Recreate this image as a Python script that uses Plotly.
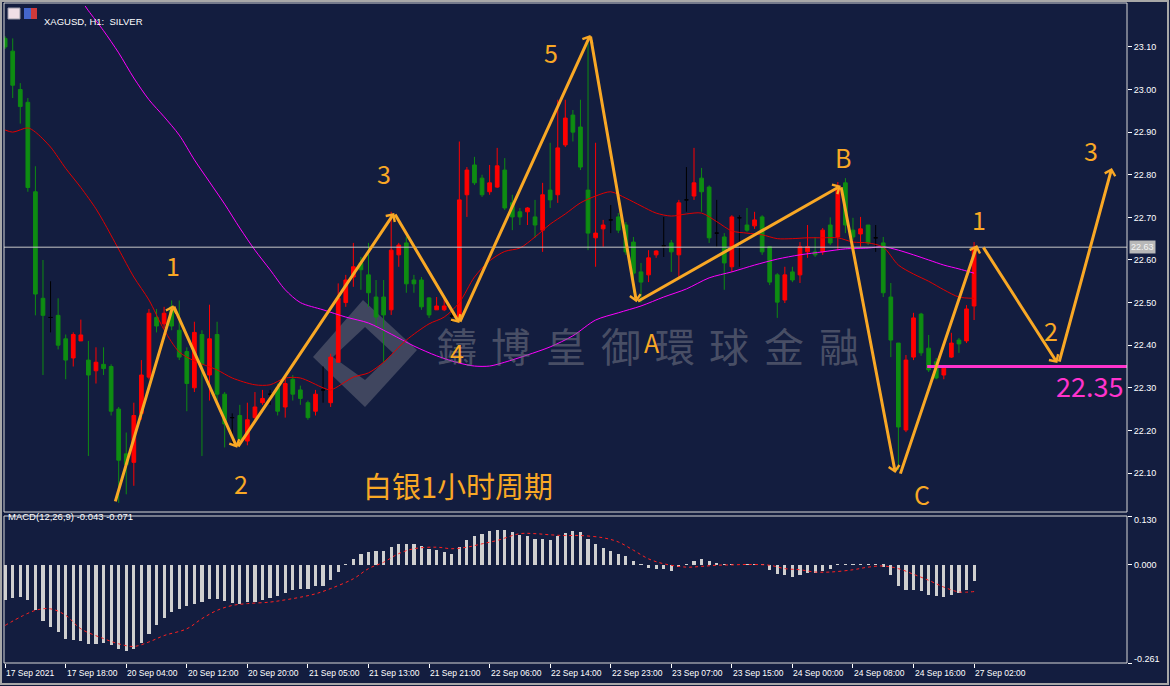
import plotly.graph_objects as go

# ---------------- data ----------------
bar_open = [23.12, 23.09, 23.00, 22.97, 22.76, 22.51, 22.465, 22.47, 22.415, 22.37,
            22.41, 22.365, 22.34, 22.355, 22.35, 22.25, 22.145, 22.125, 22.24, 22.325,
            22.465, 22.45, 22.49, 22.435, 22.385, 22.30, 22.425, 22.33, 22.425, 22.285,
            22.23, 22.235, 22.175, 22.23, 22.265, 22.285, 22.30, 22.255, 22.32, 22.295,
            22.265, 22.245, 22.295, 22.265, 22.36, 22.50, 22.56, 22.593, 22.565, 22.513,
            22.513, 22.483, 22.612, 22.64, 22.553, 22.553, 22.511, 22.483, 22.483, 22.468,
            22.466, 22.753, 22.823, 22.792, 22.76, 22.771, 22.811, 22.734, 22.713, 22.713,
            22.701, 22.67, 22.764, 22.753, 22.87, 22.94, 22.912, 22.764, 22.652, 22.673,
            22.694, 22.701, 22.682, 22.642, 22.572, 22.565, 22.612, 22.633, 22.64, 22.612,
            22.741, 22.75, 22.792, 22.771, 22.663, 22.654, 22.584, 22.699, 22.682, 22.68,
            22.701, 22.631, 22.565, 22.506, 22.572, 22.565, 22.619, 22.619, 22.619, 22.682,
            22.654, 22.781, 22.67, 22.661, 22.682, 22.652, 22.64, 22.513, 22.405, 22.201,
            22.372, 22.473, 22.393, 22.361, 22.33, 22.372, 22.412, 22.41, 22.492]
bar_high = [23.125, 23.12, 23.015, 22.98, 22.82, 22.60, 22.55, 22.51, 22.425, 22.43,
            22.46, 22.41, 22.395, 22.395, 22.355, 22.255, 22.195, 22.265, 22.365, 22.485,
            22.485, 22.49, 22.505, 22.505, 22.395, 22.455, 22.435, 22.495, 22.455, 22.29,
            22.24, 22.26, 22.265, 22.29, 22.295, 22.295, 22.31, 22.325, 22.33, 22.305,
            22.27, 22.295, 22.35, 22.38, 22.545, 22.565, 22.64, 22.607, 22.64, 22.553,
            22.553, 22.713, 22.64, 22.654, 22.565, 22.56, 22.513, 22.513, 22.511, 22.476,
            22.878, 22.818, 22.842, 22.80, 22.823, 22.863, 22.839, 22.753, 22.722, 22.724,
            22.741, 22.781, 22.875, 22.976, 22.976, 22.952, 22.976, 23.11, 22.875, 22.694,
            22.729, 22.71, 22.689, 22.654, 22.593, 22.623, 22.623, 22.701, 22.647, 22.741,
            22.818, 22.863, 22.816, 22.775, 22.741, 22.663, 22.705, 22.705, 22.722, 22.713,
            22.705, 22.631, 22.569, 22.584, 22.584, 22.642, 22.682, 22.654, 22.675, 22.70,
            22.783, 22.792, 22.699, 22.701, 22.682, 22.682, 22.654, 22.546, 22.405, 22.377,
            22.476, 22.476, 22.424, 22.37, 22.351, 22.429, 22.417, 22.494, 22.642]
bar_low = [23.095, 22.98, 22.92, 22.76, 22.47, 22.33, 22.43, 22.39, 22.32, 22.35,
           22.41, 22.14, 22.31, 22.33, 22.235, 22.03, 22.05, 22.07, 22.225, 22.32,
           22.43, 22.44, 22.435, 22.365, 22.245, 22.29, 22.14, 22.27, 22.27, 22.16,
           22.165, 22.17, 22.165, 22.225, 22.26, 22.26, 22.235, 22.23, 22.27, 22.26,
           22.225, 22.235, 22.265, 22.255, 22.36, 22.49, 22.537, 22.53, 22.49, 22.443,
           22.36, 22.471, 22.584, 22.523, 22.523, 22.483, 22.464, 22.483, 22.48, 22.454,
           22.459, 22.701, 22.776, 22.748, 22.753, 22.769, 22.717, 22.67, 22.682, 22.682,
           22.652, 22.619, 22.722, 22.734, 22.865, 22.878, 22.811, 22.623, 22.584, 22.631,
           22.663, 22.663, 22.612, 22.523, 22.50, 22.548, 22.605, 22.607, 22.572, 22.56,
           22.713, 22.741, 22.713, 22.64, 22.631, 22.53, 22.572, 22.584, 22.666, 22.673,
           22.612, 22.541, 22.464, 22.499, 22.548, 22.546, 22.605, 22.607, 22.612, 22.635,
           22.623, 22.663, 22.647, 22.631, 22.635, 22.619, 22.513, 22.372, 22.107, 22.196,
           22.365, 22.375, 22.337, 22.32, 22.32, 22.37, 22.382, 22.405, 22.459]
bar_close = [23.10, 23.01, 22.96, 22.77, 22.52, 22.47, 22.465, 22.40, 22.365, 22.425,
             22.424, 22.33, 22.36, 22.345, 22.245, 22.13, 22.12, 22.235, 22.33, 22.475,
             22.445, 22.475, 22.445, 22.372, 22.31, 22.43, 22.355, 22.415, 22.285, 22.215,
             22.23, 22.18, 22.225, 22.255, 22.275, 22.285, 22.245, 22.31, 22.285, 22.275,
             22.23, 22.285, 22.295, 22.372, 22.51, 22.553, 22.584, 22.577, 22.523, 22.466,
             22.471, 22.623, 22.635, 22.544, 22.544, 22.49, 22.471, 22.492, 22.492, 22.468,
             22.741, 22.811, 22.781, 22.753, 22.781, 22.821, 22.722, 22.701, 22.701, 22.722,
             22.682, 22.753, 22.741, 22.863, 22.933, 22.90, 22.818, 22.663, 22.663, 22.682,
             22.694, 22.67, 22.619, 22.569, 22.548, 22.605, 22.621, 22.633, 22.619, 22.734,
             22.741, 22.781, 22.76, 22.652, 22.663, 22.593, 22.701, 22.699, 22.67, 22.694,
             22.619, 22.548, 22.501, 22.565, 22.553, 22.631, 22.631, 22.612, 22.67, 22.64,
             22.769, 22.682, 22.654, 22.673, 22.64, 22.652, 22.523, 22.412, 22.208, 22.365,
             22.464, 22.382, 22.342, 22.323, 22.346, 22.405, 22.403, 22.485, 22.63]

# moving averages: (bar index, value)
ma_red_idx = [0, 1, 3, 4, 6, 8, 10, 12, 13, 15, 17, 19, 21, 23, 25, 28, 30, 33, 35, 37,
              39, 42, 43, 46, 48, 50, 53, 56, 58, 60, 62, 64, 66, 68, 70, 72, 74, 76, 78, 80,
              82, 84, 86, 88, 90, 92, 94, 96, 98, 100, 102, 104, 106, 108, 110, 112, 114, 116,
              118, 120, 122, 124, 126, 128]
ma_red_val = [22.905, 22.90, 22.91, 22.90, 22.865, 22.815, 22.77, 22.72, 22.69, 22.625,
              22.56, 22.506, 22.436, 22.384, 22.363, 22.342, 22.323, 22.307, 22.307, 22.323,
              22.323, 22.30, 22.295, 22.325, 22.335, 22.36, 22.412, 22.45, 22.466, 22.50,
              22.56, 22.598, 22.62, 22.628, 22.654, 22.684, 22.708, 22.734, 22.75, 22.76,
              22.745, 22.727, 22.71, 22.703, 22.708, 22.71, 22.69, 22.668, 22.663, 22.659,
              22.65, 22.65, 22.652, 22.652, 22.652, 22.642, 22.64, 22.63, 22.588, 22.567,
              22.55, 22.53, 22.513, 22.51]
ma_mag_idx = [9, 10, 11, 13, 15, 17, 19, 21, 23, 25, 27, 29, 31, 33, 35, 37, 39, 42, 45, 48,
              51, 54, 57, 60, 62, 64, 66, 69, 72, 75, 78, 81, 84, 87, 90, 93, 96, 99, 102, 105,
              108, 111, 114, 116, 118, 120, 122, 124, 126, 128]
ma_mag_val = [23.23, 23.21, 23.185, 23.138, 23.086, 23.027, 22.976, 22.936, 22.893, 22.835,
              22.783, 22.731, 22.675, 22.623, 22.577, 22.53, 22.50, 22.483, 22.466, 22.452,
              22.426, 22.398, 22.375, 22.358, 22.351, 22.351, 22.36, 22.377, 22.396, 22.422,
              22.459, 22.476, 22.492, 22.513, 22.532, 22.558, 22.572, 22.588, 22.602, 22.612,
              22.619, 22.626, 22.628, 22.631, 22.623, 22.612, 22.60, 22.588, 22.579, 22.569]

macd_main = [-0.094, -0.088, -0.086, -0.094, -0.119, -0.148, -0.165, -0.179, -0.196, -0.201,
             -0.203, -0.210, -0.210, -0.208, -0.212, -0.223, -0.229, -0.223, -0.208, -0.183,
             -0.161, -0.140, -0.126, -0.118, -0.110, -0.103, -0.099, -0.092, -0.092, -0.097,
             -0.101, -0.103, -0.099, -0.099, -0.094, -0.087, -0.084, -0.075, -0.068, -0.063,
             -0.063, -0.057, -0.057, -0.041, -0.019, 0.001, 0.016, 0.030, 0.034, 0.037,
             0.037, 0.047, 0.056, 0.056, 0.056, 0.050, 0.043, 0.039, 0.034, 0.030,
             0.047, 0.067, 0.078, 0.083, 0.090, 0.094, 0.092, 0.087, 0.080, 0.078,
             0.070, 0.070, 0.067, 0.076, 0.086, 0.089, 0.087, 0.070, 0.056, 0.045,
             0.037, 0.030, 0.023, 0.009, 0.001, -0.008, -0.010, -0.010, -0.015, -0.006,
             0.001, 0.009, 0.015, 0.009, 0.006, 0.001, 0.001, 0.000, 0.001, 0.001,
             0.001, -0.013, -0.024, -0.028, -0.031, -0.028, -0.022, -0.022, -0.016, -0.012,
             0.002, 0.002, 0.002, 0.002, 0.002, 0.002, -0.005, -0.028, -0.055, -0.066,
             -0.066, -0.070, -0.079, -0.084, -0.086, -0.079, -0.075, -0.066, -0.043]
signal_idx = [0, 4, 6, 8, 10, 13, 15, 17, 19, 21, 24, 26, 28, 30, 32, 35, 37, 39, 41, 43,
              46, 48, 50, 52, 54, 57, 59, 61, 63, 65, 68, 70, 72, 74, 76, 79, 81, 83, 85, 87,
              90, 92, 94, 96, 98, 101, 103, 105, 107, 109, 112, 114, 116, 118, 120, 122, 124,
              126, 128]
signal_val = [-0.161, -0.121, -0.117, -0.134, -0.170, -0.196, -0.210, -0.217, -0.205, -0.188,
              -0.170, -0.143, -0.121, -0.108, -0.103, -0.099, -0.093, -0.086, -0.077, -0.063,
              -0.037, -0.010, 0.007, 0.030, 0.043, 0.047, 0.043, 0.047, 0.056, 0.065,
              0.083, 0.083, 0.080, 0.078, 0.078, 0.072, 0.061, 0.039, 0.016, 0.003,
              -0.006, -0.004, -0.001, 0.000, 0.001, -0.001, -0.010, -0.013, -0.019, -0.019,
              -0.013, -0.006, -0.003, -0.010, -0.025, -0.041, -0.059, -0.072, -0.071]

time_tick_idx = [0, 8, 16, 24, 32, 40, 48, 56, 64, 72, 80, 88, 96, 104, 112, 120, 128]
time_tick_text = ["17 Sep 2021", "17 Sep 18:00", "20 Sep 04:00", "20 Sep 12:00", "20 Sep 20:00",
                  "21 Sep 05:00", "21 Sep 13:00", "21 Sep 21:00", "22 Sep 06:00", "22 Sep 14:00",
                  "22 Sep 23:00", "23 Sep 07:00", "23 Sep 15:00", "24 Sep 00:00", "24 Sep 08:00",
                  "24 Sep 16:00", "27 Sep 02:00"]
price_ticks = [22.10, 22.20, 22.30, 22.40, 22.50, 22.60, 22.70, 22.80, 22.90, 23.00, 23.10]
macd_ticks = [0.130, 0.000, -0.261]

current_price = 22.63
support_level = 22.35
support_start = 121.8

# Elliott-wave arrows: (tail bar, tail price, head bar, head price)
wave_arrows = [
    (14.5, 22.030, 22.2, 22.494),
    (22.2, 22.494, 30.65, 22.159),
    (30.65, 22.159, 51.4, 22.710),
    (51.4, 22.710, 60.0, 22.452),
    (60.0, 22.452, 77.3, 23.128),
    (77.3, 23.128, 83.4, 22.501),
    (83.4, 22.501, 110.4, 22.774),
    (110.4, 22.774, 117.6, 22.100),
    (118.2, 22.095, 128.4, 22.635),
    (129.1, 22.633, 139.0, 22.358),
    (139.2, 22.358, 146.2, 22.816),
]
wave_labels = [
    (22.2, 22.588, "1"), (31.2, 22.077, "2"), (50.1, 22.804, "3"), (59.7, 22.384, "4"),
    (72.1, 23.088, "5"), (85.5, 22.408, "A"), (110.7, 22.842, "B"), (121.1, 22.051, "C"),
    (128.7, 22.696, "1"), (138.2, 22.436, "2"), (143.5, 22.858, "3"),
]
watermark_chars = ["鑄", "博", "皇", "御", "環", "球", "金", "融"]

# ---------------- layout geometry (pixels) ----------------
W, H = 1170, 686
L, R, T, B = 4, 1127, 6, 663
MAIN_BOTTOM, MACD_TOP = 512, 516
BG = "#131d3f"
ORANGE = "#F9A825"
PINK = "#FF33CC"
GREEN = "#0e8c12"
RED = "#ff0000"
FONT = "Liberation Sans"


def px(x):
    return (x - L) / (R - L)


def py(y):
    return (B - y) / (B - T)


n = len(bar_close)
idx = list(range(n))
up = [i for i in idx if bar_close[i] > bar_open[i]]
dn = [i for i in idx if bar_close[i] < bar_open[i]]
dj = [i for i in idx if bar_close[i] == bar_open[i]]


def candle(sel, color, name):
    return go.Candlestick(
        x=sel, open=[bar_open[i] for i in sel], high=[bar_high[i] for i in sel],
        low=[bar_low[i] for i in sel], close=[bar_close[i] for i in sel],
        increasing=dict(line=dict(color=color, width=1), fillcolor=color),
        decreasing=dict(line=dict(color=color, width=1), fillcolor=color),
        whiskerwidth=0, name=name, showlegend=False, xaxis="x", yaxis="y",
        hoverinfo="skip")


fig = go.Figure()
fig.add_trace(go.Scatter(x=ma_mag_idx, y=ma_mag_val, mode="lines",
                         line=dict(color="#ff00ff", width=1, shape="spline", smoothing=0.8),
                         showlegend=False, hoverinfo="skip", yaxis="y"))
fig.add_trace(go.Scatter(x=ma_red_idx, y=ma_red_val, mode="lines",
                         line=dict(color="#e00000", width=1, shape="spline", smoothing=0.8),
                         showlegend=False, hoverinfo="skip", yaxis="y"))
fig.add_trace(candle(up, RED, "up"))
fig.add_trace(candle(dn, GREEN, "down"))
fig.add_trace(candle(dj, "#000000", "doji"))

fig.add_trace(go.Bar(x=idx, y=macd_main, marker=dict(color="#cfcfcf", line=dict(width=0)),
                     width=0.42, showlegend=False, hoverinfo="skip", xaxis="x", yaxis="y2"))
fig.add_trace(go.Scatter(x=signal_idx, y=signal_val, mode="lines",
                         line=dict(color="#ff2020", width=1, dash="dot", shape="spline"),
                         showlegend=False, hoverinfo="skip", xaxis="x", yaxis="y2"))

shapes = []
# price line
shapes.append(dict(type="line", xref="paper", x0=0, x1=1, yref="y", y0=current_price,
                   y1=current_price, line=dict(color="#c8c8c8", width=1)))
# support
shapes.append(dict(type="line", xref="x", x0=support_start, x1=148.2, yref="y",
                   y0=support_level, y1=support_level, line=dict(color=PINK, width=3)))
# panel frames
shapes.append(dict(type="rect", xref="paper", yref="paper", x0=px(L), x1=px(R),
                   y0=py(MAIN_BOTTOM), y1=py(3), line=dict(color="#d8d8d8", width=1)))
shapes.append(dict(type="rect", xref="paper", yref="paper", x0=px(L), x1=px(R),
                   y0=py(B), y1=py(MACD_TOP), line=dict(color="#d8d8d8", width=1)))
# outer window border
shapes.append(dict(type="rect", xref="paper", yref="paper", x0=px(1), x1=px(1168),
                   y0=py(684), y1=py(1), line=dict(color="#a8a8a8", width=2)))


def path(pts):
    return "M " + " L ".join(f"{px(a)},{py(b)}" for a, b in pts) + " Z"


# logo diamond (watermark)
shapes.append(dict(type="path", xref="paper", yref="paper", layer="below",
                   path=path([(313, 357), (363, 300), (417, 350), (365, 407)]),
                   fillcolor="rgba(120,122,135,0.45)", line=dict(width=0)))
shapes.append(dict(type="path", xref="paper", yref="paper", layer="below",
                   path=path([(333, 357), (365, 327), (393, 353), (365, 380)]),
                   fillcolor=BG, line=dict(width=0)))
# header icons
shapes.append(dict(type="rect", xref="paper", yref="paper", x0=px(8), x1=px(20),
                   y0=py(19), y1=py(8), fillcolor="#f0dfe6", line=dict(color="#9a9aa8", width=1)))
shapes.append(dict(type="rect", xref="paper", yref="paper", x0=px(24), x1=px(31),
                   y0=py(19), y1=py(8), fillcolor="#4466cc", line=dict(width=0)))
shapes.append(dict(type="rect", xref="paper", yref="paper", x0=px(31), x1=px(37),
                   y0=py(19), y1=py(8), fillcolor="#d03a3a", line=dict(width=0)))

ann = []
# watermark text, one character at a time
for k, ch in enumerate(watermark_chars):
    ann.append(dict(xref="paper", yref="paper", x=px(457 + 54.5 * k), y=py(345), text=ch,
                    xanchor="center", yanchor="middle", showarrow=False,
                    font=dict(family="Noto Sans CJK TC", size=40,
                              color="rgba(120,122,135,0.55)")))
# wave arrows
for ax_, ay_, x_, y_ in wave_arrows:
    ann.append(dict(xref="x", yref="y", axref="x", ayref="y", x=x_, y=y_, ax=ax_, ay=ay_,
                    text="", showarrow=True, arrowhead=4, arrowsize=0.7, arrowwidth=3,
                    arrowcolor=ORANGE, standoff=0, startstandoff=0))
for x_, y_, t in wave_labels:
    ann.append(dict(xref="x", yref="y", x=x_, y=y_, text=t, showarrow=False,
                    xanchor="center", yanchor="middle",
                    font=dict(family="Noto Sans CJK SC", size=25, color=ORANGE)))
ann.append(dict(xref="paper", yref="paper", x=px(458), y=py(485), text="白银1小时周期",
                xanchor="center", yanchor="middle", showarrow=False,
                font=dict(family="Noto Sans CJK SC", size=29, color=ORANGE)))
ann.append(dict(xref="x", yref="y", x=143.3, y=support_level, xanchor="center",
                yanchor="top", yshift=2, text=f"{support_level:.2f}", showarrow=False,
                font=dict(family="Noto Sans CJK SC", size=27, color=PINK)))
# header / indicator titles
ann.append(dict(xref="paper", yref="paper", x=px(42), y=py(14), xanchor="left",
                text="XAGUSD, H1:  SILVER", showarrow=False,
                font=dict(family=FONT, size=9.5, color="#ffffff")))
ann.append(dict(xref="paper", yref="paper", x=px(6), y=py(524), xanchor="left",
                text="MACD(12,26,9) -0.043 -0.071", showarrow=False,
                font=dict(family=FONT, size=9.5, color="#ffffff")))
# current price tag
ann.append(dict(xref="paper", yref="y", x=1, y=current_price, xanchor="left", xshift=2,
                text=f"{current_price:.2f}", showarrow=False, bgcolor="#b8b8b8",
                borderpad=1, font=dict(family=FONT, size=9, color="#f4f4f4")))
# macd axis labels
for v, sh in zip(macd_ticks, [-4, 0, 4]):
    ann.append(dict(xref="paper", yref="y2", x=1, y=v, xanchor="left", xshift=5, yshift=sh,
                    text=f"{v:.3f}", showarrow=False,
                    font=dict(family=FONT, size=9, color="#ffffff")))
# time labels
for i, t in zip(time_tick_idx, time_tick_text):
    ann.append(dict(xref="x", yref="paper", x=i, y=0, xanchor="left", yanchor="top",
                    xshift=-1, yshift=-3, text=t, showarrow=False,
                    font=dict(family=FONT, size=8.5, color="#ffffff")))

main_dom = [py(MAIN_BOTTOM), py(T)]
macd_dom = [0, py(MACD_TOP)]

fig.update_layout(
    width=W, height=H, margin=dict(l=L, r=W - R, t=T, b=H - B),
    paper_bgcolor=BG, plot_bgcolor=BG, showlegend=False, bargap=0,
    boxgap=0.3,
    xaxis=dict(range=[-0.15, 148.2], anchor="y2", showgrid=False, zeroline=False,
               rangeslider=dict(visible=False), tickvals=time_tick_idx, showticklabels=False,
               ticks="outside", ticklen=4, tickcolor="#ffffff", showline=False, fixedrange=True),
    yaxis=dict(domain=main_dom, range=[22.0085, 23.196], side="right", showgrid=False,
               zeroline=False, tickvals=price_ticks, ticktext=[f"{v:.2f}" for v in price_ticks],
               ticks="outside", ticklen=4, tickcolor="#ffffff",
               tickfont=dict(family=FONT, size=9, color="#ffffff"), showline=False),
    yaxis2=dict(domain=macd_dom, range=[-0.261, 0.130], side="right", showgrid=False,
                zeroline=False, tickvals=macd_ticks, showticklabels=False, ticks="outside",
                ticklen=4, tickcolor="#ffffff", showline=False),
    shapes=shapes, annotations=ann,
)

fig.write_html("out.html")
